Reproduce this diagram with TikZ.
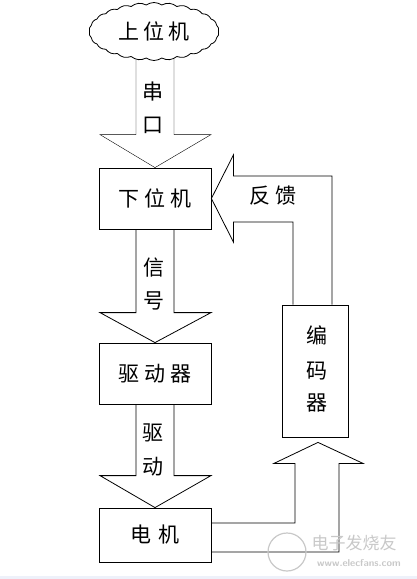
\documentclass[tikz,border=0pt]{standalone}
\usepackage{fontspec}
\newfontfamily\cjk{Noto Sans CJK SC}
\usetikzlibrary{shapes.symbols,calc,backgrounds}
\definecolor{strip}{RGB}{238,241,250}
\definecolor{wm}{RGB}{200,200,200}
\begin{document}
\begin{tikzpicture}[x=1pt,y=-1pt, line width=0.8pt,
  lbl/.style={font=\cjk\fontsize{21}{21}\selectfont, inner sep=0pt},
  box/.style={draw, minimum width=112pt, inner sep=0pt, lbl}]
\useasboundingbox (0,0) rectangle (417,579);
\fill[strip] (0,576) rectangle (417,579);
% nodes
\node[cloud, draw, fill=white, cloud puffs=26, cloud puff arc=70, minimum width=130pt, minimum height=58pt, aspect=2.25, lbl] (host) at (154,31.5) {上\hspace{4pt}位\hspace{4pt}机};
\node[box, minimum height=61pt] (lower) at (155,198.5) {下\hspace{5pt}位\hspace{5pt}机};
\node[box, minimum height=61pt] (driver) at (155,373.5) {驱\hspace{5pt}动\hspace{5pt}器};
\node[box, minimum height=54pt] (motor) at (155,535) {电\hspace{8pt}机};
\node[draw, minimum width=66pt, minimum height=132pt, inner sep=0pt] (enc) at (315,371) {};
\node[lbl] (e1) at (317,335) {编};
\node[lbl] (e2) at (317,371) {码};
\node[lbl] (e3) at (317,403) {器};
% arrow labels
\node[lbl] (l1) at (153,92) {串};
\node[lbl] (l2) at (153,125) {口};
\node[lbl] (l3) at (154,268) {信};
\node[lbl] (l4) at (154,301) {号};
\node[lbl] (l5) at (153,433) {驱};
\node[lbl] (l6) at (153,467) {动};
\node[lbl] (l7) at (273,196) {反\hspace{6pt}馈};
\begin{scope}[on background layer]
% arrow 1
\path (lower.north) ++(-19,-33) coordinate (a1l) ++(38,0) coordinate (a1r);
\draw (a1l |- host.center) -- (a1l) -- ++(-36,0) -- (lower.north) -- ($(a1r)+(37,0)$) -- (a1r) -- (a1r |- host.center);
\end{scope}
% arrow 2
\path (driver.north) ++(-19,-30) coordinate (a2l) ++(38,0) coordinate (a2r);
\draw (a2l |- lower.south) -- (a2l) -- ++(-36,0) -- (driver.north) -- ($(a2r)+(37,0)$) -- (a2r) -- (a2r |- lower.south);
% arrow 3
\path (motor.north) ++(-19,-32) coordinate (a3l) ++(38,0) coordinate (a3r);
\draw (a3l |- driver.south) -- (a3l) -- ++(-36,0) -- (motor.north) -- ($(a3r)+(37,0)$) -- (a3r) -- (a3r |- driver.south);
% feedback arrow
\path (lower.east) ++(22,-22.5) coordinate (fu);
\path (lower.east) ++(22,23.5) coordinate (fd);
\path ([xshift=17pt]enc.north) coordinate (eu);
\path ([xshift=-22pt]enc.north) coordinate (ed);
\draw (eu) |- (fu) -- ++(0,-21) -- (lower.east) -- ($(fd)+(0,20)$) -- (fd) -| (ed);
% motor to encoder arrow
\coordinate (tip) at ($(enc.south)+(3,5)$);
\path (tip) ++(-23,21) coordinate (bl);
\path (tip) ++(21,21) coordinate (br);
\path ([yshift=12pt]motor.east) coordinate (mu);
\path ([yshift=-17pt]motor.east) coordinate (md);
\draw (mu) -| (bl) -- ++(-21,0) -- (tip) -- ($(br)+(24,0)$) -- (br) |- (md);
% watermark
\draw[wm, line width=1.2pt] (287,552) circle (19);
\node[text=wm, font=\cjk\fontsize{17}{17}\selectfont, inner sep=0pt] (wm1) at (354,543) {电子发烧友};
\node[text=wm, font=\sffamily\bfseries\fontsize{10}{10}\selectfont, inner sep=0pt] (wm2) at (359,563) {www.elecfans.com};
\end{tikzpicture}
\end{document}
